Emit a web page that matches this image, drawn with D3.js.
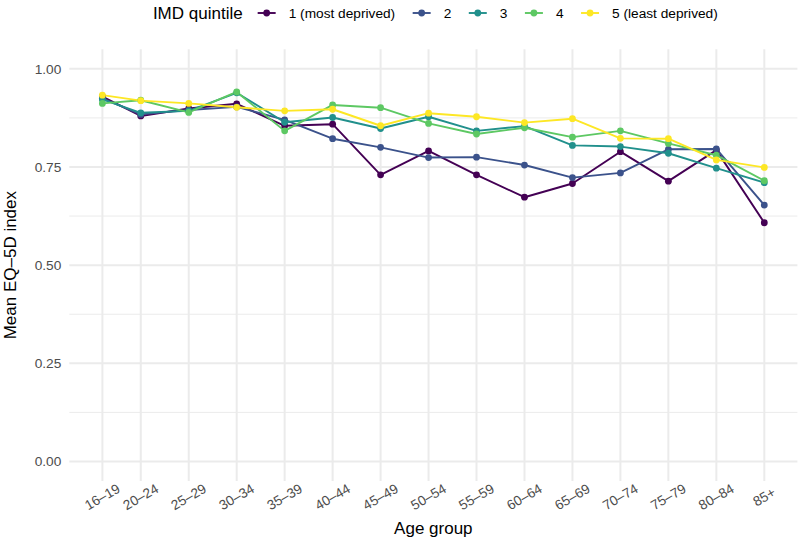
<!DOCTYPE html>
<html>
<head>
<meta charset="utf-8">
<script src="https://cdn.jsdelivr.net/npm/d3@7"></script>
<style>
  html, body { margin: 0; padding: 0; background: #ffffff; }
  svg { display: block; font-family: "Liberation Sans", Arial, Helvetica, sans-serif; }
</style>
</head>
<body>
<svg id="chart" width="800" height="542"></svg>
<script>
// ---- data ----
const ageLower  = [16, 20, 25, 30, 35, 40, 45, 50, 55, 60, 65, 70, 75, 80, 85];
const ageLabels = ["16–19","20–24","25–29","30–34","35–39","40–44","45–49","50–54","55–59","60–64","65–69","70–74","75–79","80–84","85+"];
const quintileNames = ["1 (most deprived)", "2", "3", "4", "5 (least deprived)"];
const quintileColors = ["#440154", "#3B528B", "#21908C", "#5DC863", "#FDE725"];
const q1 = [0.929, 0.880, 0.899, 0.911, 0.855, 0.859, 0.730, 0.791, 0.730, 0.673, 0.708, 0.789, 0.714, 0.793, 0.608];
const q2 = [0.925, 0.884, 0.895, 0.903, 0.870, 0.822, 0.800, 0.774, 0.775, 0.755, 0.723, 0.735, 0.795, 0.796, 0.653];
const q3 = [0.922, 0.888, 0.893, 0.939, 0.864, 0.876, 0.848, 0.878, 0.842, 0.854, 0.805, 0.802, 0.785, 0.747, 0.710];
const q4 = [0.912, 0.920, 0.889, 0.941, 0.842, 0.908, 0.901, 0.861, 0.834, 0.850, 0.826, 0.842, 0.810, 0.780, 0.715];
const q5 = [0.933, 0.919, 0.912, 0.902, 0.893, 0.897, 0.855, 0.887, 0.878, 0.863, 0.873, 0.823, 0.822, 0.768, 0.749];
const yTicks = [0, 0.25, 0.5, 0.75, 1.0];
const yMinor = [0.125, 0.375, 0.625, 0.875];

const seriesValues = [q1, q2, q3, q4, q5];
const series = seriesValues.map((vals, i) => ({
  name: quintileNames[i],
  color: quintileColors[i],
  points: vals.map((v, j) => ({ x: ageLower[j], y: v }))
}));

// ---- layout ----
const svg = d3.select("#chart");
const panel = { left: 69.3, right: 797.4, top: 49.2, bottom: 481.1 };

const xMin = d3.min(ageLower), xMax = d3.max(ageLower);
const xPad = (xMax - xMin) * 0.05;
const x = d3.scaleLinear().domain([xMin - xPad, xMax + xPad]).range([panel.left, panel.right]);
const y = d3.scaleLinear().domain([-0.05, 1.05]).range([panel.bottom, panel.top]);

const grid = svg.append("g");
grid.selectAll("line.ymin").data(yMinor).join("line")
  .attr("x1", panel.left).attr("x2", panel.right)
  .attr("y1", d => y(d)).attr("y2", d => y(d))
  .attr("stroke", "#EBEBEB").attr("stroke-width", 1);
grid.selectAll("line.ymaj").data(yTicks).join("line")
  .attr("x1", panel.left).attr("x2", panel.right)
  .attr("y1", d => y(d)).attr("y2", d => y(d))
  .attr("stroke", "#EBEBEB").attr("stroke-width", 2);
grid.selectAll("line.xmaj").data(ageLower).join("line")
  .attr("x1", d => x(d)).attr("x2", d => x(d))
  .attr("y1", panel.top).attr("y2", panel.bottom)
  .attr("stroke", "#EBEBEB").attr("stroke-width", 2);

// y axis labels
const yAxis = d3.axisLeft(y).tickValues(yTicks).tickFormat(d3.format(".2f")).tickSize(0).tickPadding(8);
const yg = svg.append("g").attr("transform", `translate(${panel.left},0)`).call(yAxis);
yg.select(".domain").remove();
yg.selectAll("text").attr("fill", "#4D4D4D").style("font-size", "13.7px")
  .attr("font-family", "Liberation Sans, Arial, sans-serif");

// x axis labels
const xg = svg.append("g");
xg.selectAll("text").data(ageLower).join("text")
  .attr("transform", d => `translate(${x(d)},497) rotate(-30)`)
  .attr("text-anchor", "middle")
  .attr("dominant-baseline", "central")
  .attr("fill", "#4D4D4D")
  .style("font-size", "13.7px")
  .text((d, i) => ageLabels[i]);

// axis titles
svg.append("text")
  .attr("x", (panel.left + panel.right) / 2).attr("y", 534)
  .attr("text-anchor", "middle").style("font-size", "17px").attr("fill", "#000")
  .text("Age group");
svg.append("text")
  .attr("transform", `translate(16,${(panel.top + panel.bottom) / 2}) rotate(-90)`)
  .attr("text-anchor", "middle").style("font-size", "17px").attr("fill", "#000")
  .text("Mean EQ–5D index");

// lines then points
const line = d3.line().x(d => x(d.x)).y(d => y(d.y));
svg.append("g").selectAll("path").data(series).join("path")
  .attr("d", d => line(d.points))
  .attr("fill", "none").attr("stroke", d => d.color)
  .attr("stroke-width", 1.9).attr("stroke-linejoin", "round");
const pg = svg.append("g");
series.forEach(s => {
  pg.append("g").selectAll("circle").data(s.points).join("circle")
    .attr("cx", d => x(d.x)).attr("cy", d => y(d.y)).attr("r", 3.4)
    .attr("fill", s.color);
});

// legend
const leg = svg.append("g");
const legY = 13;
const title = leg.append("text").attr("y", legY).attr("dominant-baseline", "central")
  .style("font-size", "17px").attr("fill", "#000").text("IMD quintile");
const titleW = title.node().getComputedTextLength();
let cur = titleW + 24; // key center offset from title end
series.forEach((s, i) => {
  const kc = cur;
  const kg = leg.append("g");
  kg.append("line").attr("x1", kc - 9).attr("x2", kc + 9).attr("y1", legY).attr("y2", legY)
    .attr("stroke", s.color).attr("stroke-width", 1.9);
  kg.append("circle").attr("cx", kc).attr("cy", legY).attr("r", 3.4).attr("fill", s.color);
  const t = leg.append("text").attr("x", kc + 22).attr("y", legY).attr("dominant-baseline", "central")
    .style("font-size", "13.7px").attr("fill", "#000").text(s.name);
  const w = t.node().getComputedTextLength();
  cur = kc + 22 + w + 26.5;
});
const totalW = cur - 26.5;
const legStart = (panel.left + panel.right) / 2 + 2 - totalW / 2;
leg.attr("transform", `translate(${legStart},0)`);
</script>
</body>
</html>
